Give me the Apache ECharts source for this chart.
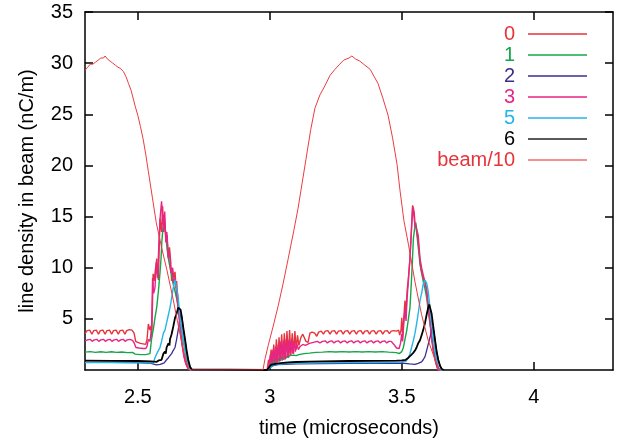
<!DOCTYPE html>
<html>
<head>
<meta charset="utf-8">
<script src="https://cdn.jsdelivr.net/npm/echarts@6/dist/echarts.min.js"></script>
<style>
html,body{margin:0;padding:0;background:#fff;}
#chart{width:623px;height:443px;}
</style>
</head>
<body>
<div id="chart"></div>
<script>
const xTicks = [2.5, 3, 3.5, 4];
const yTicks = [5, 10, 15, 20, 25, 30, 35];
const seriesNames = ['0', '1', '2', '3', '5', '6', 'beam/10'];

const det0 = [[2.300,3.55],[2.308,3.85],[2.318,3.9],[2.326,3.5],[2.333,3.85],[2.343,3.9],[2.351,3.5],[2.358,3.85],[2.368,3.9],[2.376,3.5],[2.383,3.85],[2.393,3.9],[2.401,3.5],[2.408,3.85],[2.418,3.9],[2.426,3.5],[2.433,3.85],[2.443,3.9],[2.451,3.5],[2.458,3.85],[2.468,3.95],[2.478,3.9],[2.486,3.6],[2.492,2.8],[2.500,2.7],[2.510,2.6],[2.520,2.55],[2.530,2.5],[2.535,3.0],[2.540,4.5],[2.546,3.9],[2.550,4.3],[2.553,3.2],[2.558,9.4],[2.562,8.7],[2.567,9.9],[2.572,10.9],[2.578,8.8],[2.584,14.8],[2.590,13.5],[2.594,16.0],[2.597,14.2],[2.600,15.2],[2.603,14.0],[2.607,12.5],[2.611,13.2],[2.616,10.9],[2.620,12.0],[2.625,10.5],[2.628,8.7],[2.632,10.0],[2.636,9.0],[2.641,9.6],[2.645,8.0],[2.647,8.7],[2.653,6.5],[2.660,4.5],[2.666,3.0],[2.672,1.8],[2.679,0.9],[2.685,0.4],[2.691,0.1],[2.700,0],[2.990,0],[2.995,1.0],[3.000,0.4],[3.005,2.0],[3.010,0.6],[3.015,2.5],[3.020,0.7],[3.025,3.0],[3.030,0.8],[3.035,3.2],[3.040,0.9],[3.045,3.5],[3.050,1.0],[3.055,3.6],[3.060,1.2],[3.065,3.8],[3.070,1.3],[3.075,3.9],[3.080,1.5],[3.085,3.6],[3.090,1.6],[3.095,3.8],[3.100,2.0],[3.105,3.4],[3.110,2.4],[3.118,3.2],[3.125,3.5],[3.130,3.4],[3.137,2.8],[3.145,2.7],[3.152,3.6],[3.160,3.7],[3.170,3.6],[3.178,3.3],[3.185,3.7],[3.195,3.8],[3.203,3.5],[3.210,3.8],[3.220,3.85],[3.228,3.5],[3.235,3.8],[3.245,3.85],[3.253,3.5],[3.260,3.8],[3.270,3.85],[3.278,3.5],[3.285,3.8],[3.295,3.85],[3.303,3.5],[3.310,3.8],[3.320,3.85],[3.328,3.5],[3.335,3.8],[3.345,3.85],[3.353,3.5],[3.360,3.8],[3.370,3.85],[3.378,3.5],[3.385,3.8],[3.395,3.85],[3.403,3.5],[3.410,3.8],[3.420,3.85],[3.428,3.5],[3.435,3.8],[3.445,3.85],[3.453,3.55],[3.460,3.8],[3.470,3.85],[3.480,3.8],[3.488,3.9],[3.492,3.4],[3.497,3.9],[3.500,5.1],[3.503,3.2],[3.506,4.5],[3.512,6.8],[3.515,5.1],[3.520,7.7],[3.525,9.0],[3.531,10.9],[3.537,14.1],[3.541,16.1],[3.544,15.8],[3.547,15.4],[3.550,14.3],[3.553,14.1],[3.556,13.8],[3.562,13.2],[3.569,10.9],[3.575,10.0],[3.581,9.3],[3.585,9.2],[3.590,8.4],[3.594,8.0],[3.600,6.4],[3.607,4.8],[3.613,3.2],[3.619,2.0],[3.626,1.0],[3.632,0.4],[3.638,0],[3.660,0]];

const det1 = [[2.300,1.75],[2.320,1.8],[2.340,1.72],[2.360,1.78],[2.380,1.72],[2.400,1.78],[2.420,1.72],[2.440,1.76],[2.460,1.7],[2.480,1.72],[2.490,1.55],[2.510,1.5],[2.530,1.5],[2.546,1.6],[2.553,3.2],[2.559,4.0],[2.565,5.1],[2.572,6.2],[2.578,7.7],[2.584,9.5],[2.588,10.9],[2.591,12.5],[2.595,13.8],[2.600,14.6],[2.603,14.2],[2.607,12.9],[2.611,11.8],[2.616,10.9],[2.622,10.0],[2.628,9.3],[2.634,8.4],[2.641,7.7],[2.647,7.0],[2.653,6.1],[2.660,5.0],[2.666,3.9],[2.672,2.9],[2.679,1.9],[2.685,1.0],[2.691,0.3],[2.698,0.05],[2.705,0],[2.990,0],[3.000,0.3],[3.005,0.8],[3.010,0.5],[3.015,1.0],[3.020,0.7],[3.025,1.1],[3.030,0.8],[3.035,1.2],[3.040,0.9],[3.045,1.3],[3.050,1.0],[3.055,1.3],[3.060,1.1],[3.065,1.4],[3.070,1.2],[3.075,1.4],[3.080,1.3],[3.090,1.45],[3.100,1.4],[3.110,1.5],[3.130,1.6],[3.150,1.65],[3.175,1.72],[3.200,1.75],[3.225,1.8],[3.250,1.76],[3.275,1.8],[3.300,1.76],[3.325,1.8],[3.350,1.76],[3.375,1.8],[3.400,1.76],[3.425,1.8],[3.450,1.75],[3.480,1.7],[3.490,1.6],[3.500,1.8],[3.506,2.2],[3.512,3.0],[3.519,3.9],[3.525,5.0],[3.531,6.1],[3.535,8.0],[3.539,10.0],[3.544,12.9],[3.550,14.1],[3.553,14.4],[3.556,13.8],[3.560,12.5],[3.565,11.4],[3.569,10.3],[3.575,9.5],[3.581,8.7],[3.588,7.9],[3.594,7.1],[3.600,5.8],[3.607,4.5],[3.613,3.3],[3.619,2.2],[3.626,1.3],[3.632,0.6],[3.638,0.2],[3.645,0],[3.660,0]];

const det2 = [[2.300,0.75],[2.400,0.74],[2.500,0.72],[2.550,0.65],[2.570,0.5],[2.585,0.55],[2.600,0.7],[2.609,1.0],[2.616,1.2],[2.622,1.4],[2.628,1.6],[2.634,1.9],[2.641,2.2],[2.647,3.0],[2.653,3.9],[2.660,5.1],[2.664,5.5],[2.668,5.0],[2.672,4.0],[2.679,2.9],[2.685,1.8],[2.691,0.9],[2.698,0.3],[2.705,0],[2.990,0],[3.000,0.2],[3.010,0.4],[3.030,0.52],[3.100,0.6],[3.300,0.65],[3.500,0.68],[3.530,0.6],[3.550,0.55],[3.562,0.65],[3.575,0.8],[3.581,1.0],[3.588,1.3],[3.594,1.9],[3.600,2.5],[3.607,3.2],[3.613,3.9],[3.617,4.2],[3.621,3.8],[3.626,2.9],[3.632,1.8],[3.638,1.0],[3.645,0.4],[3.651,0.1],[3.660,0]];

const det3 = [[2.300,2.85],[2.310,2.95],[2.320,3.0],[2.327,2.8],[2.335,2.95],[2.345,3.0],[2.352,2.8],[2.360,2.95],[2.370,3.0],[2.377,2.8],[2.385,2.95],[2.395,3.0],[2.402,2.8],[2.410,2.95],[2.420,3.0],[2.427,2.8],[2.435,2.95],[2.445,3.0],[2.452,2.8],[2.460,2.95],[2.470,3.0],[2.480,2.9],[2.487,2.6],[2.493,2.2],[2.505,2.15],[2.520,2.1],[2.530,2.1],[2.535,2.3],[2.540,3.0],[2.546,2.8],[2.552,4.0],[2.556,9.0],[2.560,7.5],[2.565,8.0],[2.570,10.5],[2.575,9.0],[2.580,12.5],[2.585,15.0],[2.590,16.5],[2.594,16.5],[2.598,13.5],[2.602,15.5],[2.606,12.5],[2.610,13.5],[2.615,11.0],[2.620,11.5],[2.625,9.5],[2.630,10.0],[2.635,8.5],[2.640,9.0],[2.645,8.0],[2.650,6.8],[2.656,5.2],[2.662,3.6],[2.668,2.4],[2.675,1.3],[2.682,0.6],[2.690,0.2],[2.700,0],[2.990,0],[2.997,0.5],[3.002,1.5],[3.007,0.5],[3.012,2.0],[3.017,0.6],[3.022,2.3],[3.027,0.7],[3.032,2.5],[3.037,0.8],[3.042,2.8],[3.047,0.9],[3.052,2.9],[3.057,1.0],[3.062,3.0],[3.067,1.2],[3.072,2.9],[3.077,1.4],[3.082,3.0],[3.087,1.6],[3.092,2.8],[3.097,1.8],[3.102,2.6],[3.108,2.0],[3.115,2.3],[3.125,2.5],[3.135,2.4],[3.150,2.6],[3.165,2.7],[3.180,2.8],[3.190,2.65],[3.200,2.8],[3.210,2.85],[3.218,2.65],[3.226,2.8],[3.235,2.85],[3.243,2.65],[3.251,2.8],[3.260,2.85],[3.268,2.65],[3.276,2.8],[3.285,2.85],[3.293,2.65],[3.301,2.8],[3.310,2.85],[3.318,2.65],[3.326,2.8],[3.335,2.85],[3.343,2.65],[3.351,2.8],[3.360,2.85],[3.368,2.65],[3.376,2.8],[3.385,2.85],[3.393,2.65],[3.401,2.8],[3.410,2.85],[3.418,2.65],[3.426,2.8],[3.435,2.85],[3.443,2.65],[3.451,2.8],[3.460,2.8],[3.470,2.5],[3.480,2.15],[3.490,2.1],[3.495,2.6],[3.500,3.5],[3.503,2.8],[3.506,4.0],[3.512,6.0],[3.516,4.8],[3.520,7.0],[3.525,8.7],[3.531,11.0],[3.537,13.8],[3.541,15.9],[3.544,15.5],[3.547,14.8],[3.550,14.0],[3.553,14.2],[3.556,13.5],[3.562,12.6],[3.569,10.6],[3.575,9.6],[3.581,9.0],[3.588,8.6],[3.594,7.6],[3.600,6.2],[3.607,4.6],[3.613,3.1],[3.619,1.9],[3.626,1.0],[3.632,0.4],[3.638,0],[3.660,0]];

const det5 = [[2.300,0.72],[2.400,0.72],[2.500,0.7],[2.559,0.7],[2.565,1.2],[2.572,1.6],[2.578,1.9],[2.584,2.2],[2.590,2.8],[2.597,3.6],[2.603,3.9],[2.609,4.6],[2.616,5.4],[2.622,6.1],[2.628,7.0],[2.634,8.0],[2.641,8.8],[2.647,8.0],[2.653,7.1],[2.660,5.1],[2.666,4.0],[2.672,2.9],[2.679,1.9],[2.685,1.0],[2.691,0.4],[2.698,0],[2.990,0],[3.000,0.2],[3.010,0.45],[3.030,0.55],[3.060,0.62],[3.100,0.66],[3.200,0.7],[3.300,0.72],[3.400,0.74],[3.500,0.78],[3.515,0.85],[3.525,1.2],[3.531,1.6],[3.537,2.2],[3.544,2.9],[3.550,3.6],[3.556,4.5],[3.562,5.5],[3.569,6.8],[3.575,7.5],[3.581,8.4],[3.588,8.8],[3.594,8.5],[3.600,7.7],[3.607,6.0],[3.613,4.5],[3.619,3.2],[3.626,1.9],[3.632,1.0],[3.638,0.3],[3.645,0],[3.660,0]];

const det6 = [[2.300,0.92],[2.400,0.9],[2.500,0.88],[2.550,0.85],[2.572,0.8],[2.580,0.95],[2.585,1.1],[2.590,1.0],[2.597,1.6],[2.603,1.8],[2.606,1.6],[2.609,2.2],[2.616,2.6],[2.620,2.4],[2.622,3.0],[2.628,3.5],[2.634,4.2],[2.641,5.1],[2.647,5.5],[2.653,6.1],[2.658,6.2],[2.662,5.9],[2.666,5.3],[2.672,4.2],[2.679,3.0],[2.685,1.9],[2.691,1.0],[2.698,0.3],[2.705,0.05],[2.710,0],[2.990,0],[2.998,0.3],[3.005,0.5],[3.010,0.55],[3.020,0.6],[3.040,0.68],[3.070,0.74],[3.100,0.78],[3.150,0.82],[3.200,0.85],[3.300,0.88],[3.400,0.9],[3.480,0.92],[3.500,0.95],[3.515,1.0],[3.525,1.2],[3.531,1.3],[3.537,1.5],[3.544,1.7],[3.550,1.9],[3.556,2.2],[3.562,2.6],[3.569,2.9],[3.575,3.4],[3.581,3.9],[3.588,4.6],[3.594,5.4],[3.600,6.1],[3.604,6.4],[3.607,6.3],[3.613,5.5],[3.619,4.3],[3.626,2.9],[3.632,1.8],[3.638,1.0],[3.645,0.4],[3.651,0.1],[3.660,0]];

const beam = [[2.300,29.3],[2.310,29.6],[2.320,29.9],[2.330,29.9],[2.340,30.1],[2.350,30.3],[2.360,30.5],[2.370,30.5],[2.376,30.7],[2.385,30.4],[2.395,30.2],[2.405,30.0],[2.415,29.8],[2.425,29.6],[2.433,29.5],[2.445,29.2],[2.455,28.7],[2.465,28.0],[2.475,27.3],[2.482,26.6],[2.490,25.8],[2.500,24.9],[2.510,23.8],[2.520,22.6],[2.530,21.1],[2.540,19.4],[2.555,16.9],[2.570,14.4],[2.590,12.0],[2.610,9.8],[2.630,7.4],[2.650,4.8],[2.670,2.2],[2.685,0.7],[2.695,0],[2.974,0],[2.982,1.1],[2.994,2.4],[3.013,4.3],[3.032,6.3],[3.050,8.4],[3.069,10.8],[3.090,13.5],[3.107,15.8],[3.122,18.2],[3.137,20.6],[3.155,23.5],[3.171,25.6],[3.190,26.9],[3.209,27.8],[3.228,28.8],[3.247,29.4],[3.265,29.9],[3.280,30.3],[3.300,30.5],[3.311,30.7],[3.325,30.4],[3.341,30.2],[3.360,29.8],[3.380,29.4],[3.395,28.7],[3.410,28.0],[3.428,26.6],[3.448,24.9],[3.465,22.7],[3.482,20.1],[3.493,17.6],[3.508,14.6],[3.525,12.3],[3.550,8.6],[3.575,5.4],[3.600,2.9],[3.626,1.0],[3.640,0.2],[3.645,0]];

const seriesData = [det0, det1, det2, det3, det5, det6, beam];
const colors = ['#e6343c', '#14a64a', '#3d2d8c', '#e62585', '#25b5e8', '#000000', '#ec3b40'];
const widths = [1.4, 1.4, 1.3, 1.4, 1.4, 1.8, 1];
const legendTextColors = ['#e6343c', '#14a64a', '#3d2d8c', '#e62585', '#25b5e8', '#000000', '#e6343c'];
const legendLineColors = ['#e6343c', '#14a64a', '#3d2d8c', '#e62585', '#25b5e8', '#222222', '#f06a6e'];

const FONT = 'Liberation Sans, Arial, Helvetica, sans-serif';
const chart = echarts.init(document.getElementById('chart'));
const axisLineStyle = { color: '#000', width: 1.5 };

chart.setOption({
  animation: false,
  backgroundColor: '#fff',
  grid: { left: 85, right: 10, top: 12, bottom: 68 },
  legend: {
    orient: 'vertical',
    right: 36,
    top: 24,
    padding: 0,
    align: 'right',
    icon: 'rect',
    itemWidth: 59,
    itemHeight: 1.6,
    itemGap: 1,
    selectedMode: false,
    textStyle: { fontSize: 20, fontFamily: FONT, lineHeight: 20, padding: [0, 8, 0, 0] },
    data: seriesNames.map((n, i) => ({
      name: n,
      icon: 'rect',
      itemStyle: { color: legendLineColors[i] },
      textStyle: { color: legendTextColors[i] }
    }))
  },
  xAxis: [
    {
      type: 'value', position: 'bottom', min: 2.3, max: 4.3,
      name: 'time (microseconds)', nameLocation: 'middle', nameGap: 48,
      nameTextStyle: { fontSize: 20, fontFamily: FONT, color: '#000' },
      axisLine: { onZero: false, lineStyle: axisLineStyle },
      axisTick: { inside: true, length: 8, customValues: xTicks, lineStyle: axisLineStyle },
      axisLabel: { customValues: xTicks, fontSize: 20, fontFamily: FONT, color: '#000', margin: 17 },
      splitLine: { show: false }
    },
    {
      type: 'value', position: 'top', min: 2.3, max: 4.3,
      axisLine: { onZero: false, lineStyle: axisLineStyle },
      axisTick: { inside: true, length: 8, customValues: xTicks, lineStyle: axisLineStyle },
      axisLabel: { show: false },
      splitLine: { show: false }
    }
  ],
  yAxis: [
    {
      type: 'value', position: 'left', min: 0, max: 35, interval: 5,
      name: 'line density in beam (nC/m)', nameLocation: 'middle', nameGap: 48,
      nameTextStyle: { fontSize: 20, fontFamily: FONT, color: '#000' },
      axisLine: { show: true, onZero: false, lineStyle: axisLineStyle },
      axisTick: { show: true, inside: true, length: 8, customValues: yTicks, lineStyle: axisLineStyle },
      axisLabel: { customValues: yTicks, fontSize: 20, fontFamily: FONT, color: '#000', margin: 12 },
      splitLine: { show: false }
    },
    {
      type: 'value', position: 'right', min: 0, max: 35, interval: 5,
      axisLine: { show: true, onZero: false, lineStyle: axisLineStyle },
      axisTick: { show: true, inside: true, length: 8, customValues: yTicks, lineStyle: axisLineStyle },
      axisLabel: { show: false },
      splitLine: { show: false }
    }
  ],
  series: seriesNames.map((n, i) => ({
    name: n,
    type: 'line',
    xAxisIndex: 0,
    yAxisIndex: 0,
    data: seriesData[i],
    symbol: 'none',
    showSymbol: false,
    clip: true,
    lineStyle: { color: colors[i], width: widths[i] },
    itemStyle: { color: colors[i] },
    emphasis: { disabled: true }
  }))
});
</script>
</body>
</html>
